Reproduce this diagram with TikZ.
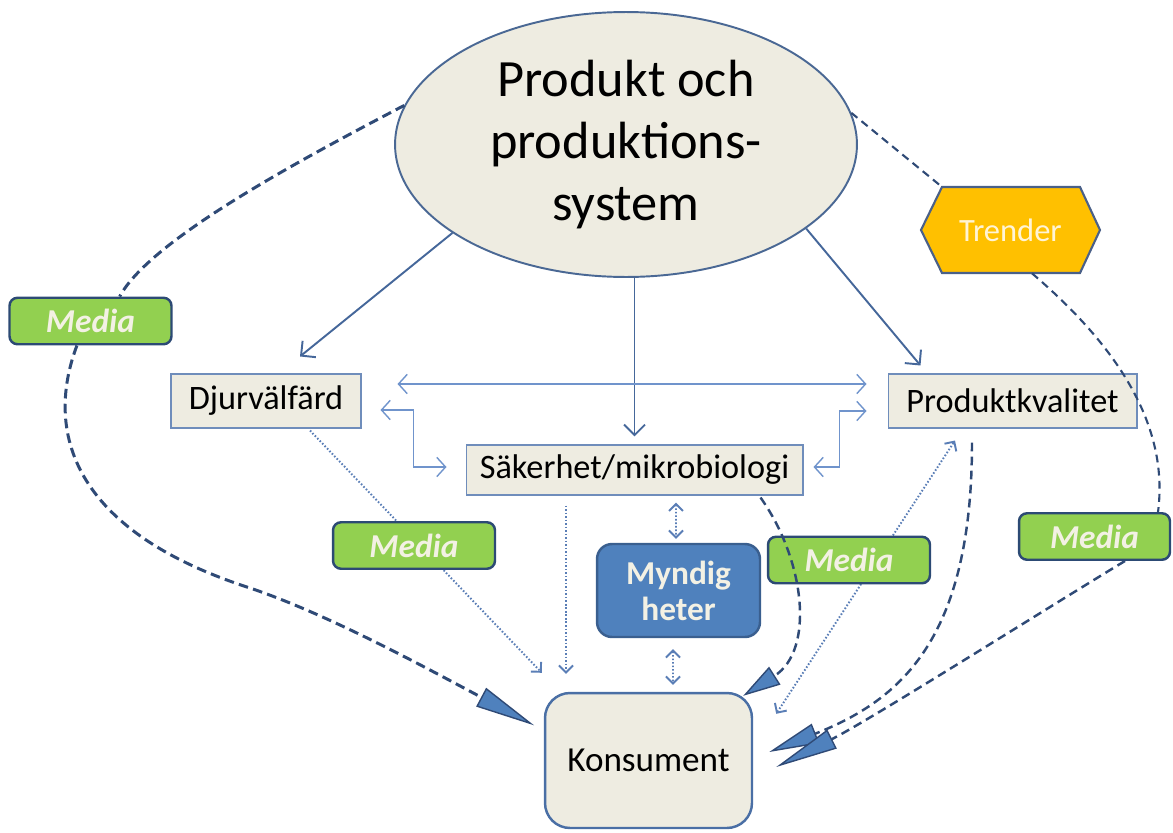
\documentclass[tikz,border=0pt]{standalone}
\usepackage{fontspec}
\setmainfont{Carlito}
\usetikzlibrary{shapes.geometric,arrows.meta,calc,backgrounds}
\definecolor{beige}{HTML}{EEECE1}
\definecolor{elline}{HTML}{4A6894}
\definecolor{boxline}{HTML}{6F8DBB}
\definecolor{navy}{HTML}{2F4A76}
\definecolor{solidc}{HTML}{45679A}
\definecolor{lightb}{HTML}{7094CC}
\definecolor{dotc}{HTML}{5A7EB6}
\definecolor{mgreen}{HTML}{92D050}
\definecolor{mline}{HTML}{2C4A74}
\definecolor{cream}{HTML}{F3F1E4}
\definecolor{tipblue}{HTML}{4F81BD}
\definecolor{myline}{HTML}{3A5F8F}
\definecolor{trfill}{HTML}{FFC000}
\definecolor{trline}{HTML}{4A6088}
\definecolor{trtext}{HTML}{FFF4D6}
\definecolor{koline}{HTML}{4A6FA5}
\begin{document}
\begin{tikzpicture}[x=0.02cm,y=-0.02cm,
  boxst/.style={draw=boxline, line width=0.6pt, fill=beige, inner sep=0pt,
    font=\fontsize{19.5}{23}\selectfont},
  mediast/.style={draw=mline, line width=1.4pt, fill=mgreen, rounded corners=0.16cm,
    minimum width=3.24cm, minimum height=0.93cm, inner sep=0pt, text=cream,
    font=\fontsize{19}{22}\selectfont\bfseries\itshape},
  solidst/.style={draw=solidc, line width=1.1pt, -{Straight Barb[length=6pt,width=12pt]}},
  lbst/.style={draw=lightb, line width=0.8pt,
    {Straight Barb[length=5pt,width=11pt]}-{Straight Barb[length=5pt,width=11pt]}},
  dotst/.style={draw=dotc, line width=1.1pt, dash pattern=on 0.9pt off 1.1pt,
    -{Straight Barb[length=4pt,width=8pt]}},
  dotboth/.style={dotst, {Straight Barb[length=4pt,width=8pt]}-{Straight Barb[length=4pt,width=8pt]}},
  dashA/.style={draw=navy, line width=1.7pt, dash pattern=on 5.5pt off 3pt},
  dashB/.style={draw=navy, line width=1.4pt, dash pattern=on 5pt off 3pt},
  dashC/.style={draw=navy, line width=1.2pt, dash pattern=on 4.5pt off 3pt},
  bigtip/.style={-{Triangle[length=#1, width=0.42cm, fill=tipblue, line width=0.8pt]}},
]
\useasboundingbox (0,0) rectangle (1173,832);

% main nodes
\node[ellipse, draw=elline, line width=1.1pt, fill=beige, inner sep=0pt,
  minimum width=9.24cm, minimum height=5.3cm, align=center,
  font=\fontsize{29.8}{35.5}\selectfont] (el) at (626,144.5)
  {Produkt och\\produktions-\\system};
\node[boxst, minimum width=3.8cm, minimum height=1.08cm] (dj) at (266,401) {Djurvälfärd};
\node[boxst, minimum width=4.98cm, minimum height=1.08cm] (pk) at (1012.5,401) {Produktkvalitet};
\node[boxst, minimum width=6.74cm, minimum height=1.0cm] (sa) at (634.5,470) {Säkerhet/mikrobiologi};
\node[draw=myline, line width=1.4pt, fill=tipblue, rounded corners=0.3cm,
  minimum width=3.26cm, minimum height=1.86cm, inner sep=0pt, align=center, text=cream,
  font=\fontsize{19}{20.5}\selectfont\bfseries] (my) at (678.5,590.5) {Myndig\\heter};
\node[draw=koline, line width=1.4pt, fill=beige, rounded corners=0.5cm,
  minimum width=4.14cm, minimum height=2.7cm, inner sep=0pt,
  font=\fontsize{20}{23}\selectfont] (ko) at (648.5,760.5) {Konsument};
\node[mediast] (m1) at (90.5,321) {Media};
\node[mediast] (m2) at (414,545.5) {Media};
\node[mediast] (m3) at (849,560) {Media};
\node[mediast, minimum width=3.02cm] (m4) at (1094.5,536.5) {Media};
\draw[fill=trfill, draw=trline, line width=1.2pt]
  (921,230) -- (942,187) -- (1080,187) -- (1100,230) -- (1080,273) -- (942,273) -- cycle;
\node[minimum width=3.58cm, minimum height=1.72cm, inner sep=0pt, text=trtext,
  font=\fontsize{18.5}{22}\selectfont] (tr) at (1010.5,230) {Trender};

% connectors behind boxes
\begin{scope}[on background layer]
\draw[dotst] ($(dj.south)+(44,2)$) -- ($(ko.north west)+(-2,-19)$);
\draw[dotst] ($(sa.south)+(-68.5,10)$) -- ($(ko.north)+(-82.5,-18)$);
\draw[dotboth] ($(sa.south)+(41.5,7)$) -- ($(my.north)+(-2.5,-4)$);
\draw[dotboth] ($(my.south)+(-5.5,11)$) -- ($(ko.north)+(24.5,-7)$);
\draw[dotboth] ($(ko.north east)+(23,22)$) -- ($(pk.south)+(-57.5,12)$);
\end{scope}

% solid arrows from the ellipse
\draw[solidst] (el.207) -- ($(dj.north)+(34,-17)$);
\draw[solidst] ($(el.south)+(8.5,0)$) -- ($(sa.north)+(0,-8)$);
\draw[solidst] (el.-25) -- ($(pk.north)+(-92,-8)$);

% light blue two-way arrows
\draw[lbst] ($(dj.east)+(36,-17)$) -- ($(pk.west)+(-21,-17)$);
\draw[lbst] ($(dj.east)+(19,9)$) -- ++(33,0) |- ($(sa.west)+(-19,-3)$);
\draw[lbst] ($(sa.east)+(10,-3)$) -- ++(26,0) |- ($(pk.west)+(-21,10)$);

% dashed connectors
\draw[dashA] (el.170) .. controls (300,160) and (150,240) .. (m1.40);
\draw[dashA, bigtip=1.2cm, shorten >=0.22cm] (m1.-119) .. controls (45,430) and (70,530) .. (250,588)
  .. controls (330,615) and (430,670) .. (ko.164);
\draw[dashB, bigtip=0.75cm] ($(sa.south)+(126,2)$) .. controls (805,560) and (815,650) .. ($(ko.north east)+(-10,4)$);
\draw[dashB, bigtip=1.0cm] ($(pk.south)+(-40.5,14)$) .. controls (972,640) and (900,700) .. ($(ko.east)+(16,-8.5)$);
\draw[dashC] (el.8) -- ($(tr.north west)+(21,0)$);
\draw[dashC] ($(tr.south)+(21.5,0)$) .. controls (1110,340) and (1170,420) .. ($(m4.north)+(63.5,0)$);
\draw[dashB, bigtip=1.25cm] ($(m4.south)+(30.5,0)$) .. controls (1060,600) and (870,720) .. ($(ko.east)+(23,6.5)$);
\end{tikzpicture}
\end{document}
